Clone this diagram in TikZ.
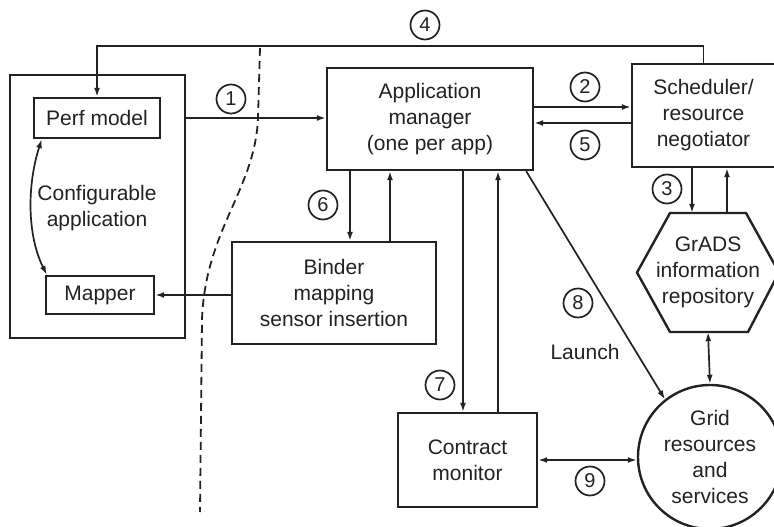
\documentclass[tikz,border=0pt]{standalone}
\usepackage{fontspec}
\setmainfont{Liberation Sans}
\usetikzlibrary{arrows.meta,calc}
\definecolor{ink}{HTML}{222222}
\begin{document}
\begin{tikzpicture}[x=1pt,y=-1pt,
  every node/.style={text=ink, font=\fontsize{21}{26}\selectfont, align=center, inner sep=0pt},
  box/.style={draw=ink, line width=2.4pt, rectangle},
  num/.style={draw=ink, circle, line width=1.7pt, minimum size=29pt, font=\fontsize{20}{20}\selectfont},
  conn/.style={draw=ink, line width=1.7pt},
  tip/.style={-{Latex[length=9,width=6]}},
  tips/.style={{Latex[length=9,width=6]}-{Latex[length=9,width=6]}}
]
\useasboundingbox (0,0) rectangle (774,527);
\fill[white] (0,0) rectangle (774,527);

% left side
\node[box, minimum width=175, minimum height=263] (app) at (97.5,206.5) {};
\node[box, minimum width=126, minimum height=40] (perf) at (97,118) {Perf model};
\node[box, minimum width=108, minimum height=38] (mapper) at (100,295) {Mapper};
\node (cfg) at (97,208) {Configurable\\application};

% centre
\node[box, minimum width=206, minimum height=102] (mgr) at (430,119) {Application\\manager\\(one per app)};
\node[box, minimum width=204, minimum height=102] (binder) at (334,293) {Binder\\mapping\\sensor insertion};
\node[box, minimum width=139, minimum height=94] (contract) at (467.5,460) {Contract\\monitor};

% right
\node[box, minimum width=143, minimum height=103] (sched) at (703.5,115.5) {Scheduler/\\resource\\negotiator};
\node[minimum width=142, minimum height=119] (hex) at (708,272.5) {GrADS\\information\\repository};
\draw[draw=ink, line width=2.4pt] (670,213) -- (746,213) -- (779,272.5) -- (748,332) -- (670,332) -- (637,272.5) -- cycle;
\node[draw=ink, circle, line width=2.4pt, minimum size=144] (grid) at (710,457) {Grid\\resources\\and\\services};

% dashed boundary
\draw[draw=ink, line width=1.8pt, dash pattern=on 8pt off 5pt]
  (260,48) -- (258,118) .. controls (255,190) and (205,230) .. (202,320) -- (200,512);

% connectors
\draw[conn, tip] (app.east |- perf) -- (mgr.west |- perf);
\draw[conn, tip] ([yshift=12]mgr.east) -- ([yshift=12]mgr.east -| sched.west);
\draw[conn, tip] ([yshift=-4]mgr.east -| sched.west) -- ([yshift=-4]mgr.east);
\draw[conn, tip] (sched.north) -- ++(0,-17) -| (perf.north);
\draw[conn, tip] ([xshift=-11.5]sched.south) -- ([xshift=-11.5]sched.south |- hex.north);
\draw[conn, tip] ([xshift=23.5]sched.south |- hex.north) -- ([xshift=23.5]sched.south);
\draw[conn, tip] ([xshift=-80]mgr.south) -- ([xshift=-80]mgr.south |- binder.north);
\draw[conn, tip] ([xshift=-40]mgr.south |- binder.north) -- ([xshift=-40]mgr.south);
\draw[conn, tip] (binder.west |- mapper) -- (mapper.east);
\draw[conn, tip] ([xshift=33]mgr.south) -- ([xshift=33]mgr.south |- contract.north);
\draw[conn, tip] ([xshift=68]mgr.south |- contract.north) -- ([xshift=68]mgr.south);
\draw[conn, tip] ([xshift=-8]mgr.south east) -- (grid.128);
\draw[conn, tips] (contract.east) -- (contract.east -| grid.west);
\draw[conn, tips] (hex.south) -- (grid.north);
\draw[conn, tips] ([xshift=9]perf.south west) .. controls (27,185) and (27,235) .. ([xshift=2]mapper.north west);

% numbered labels
\node[num] (n1) at (231,99) {1};
\node[num] (n2) at (585,87) {2};
\node[num] (n3) at (667,189) {3};
\node[num] (n4) at (425,25) {4};
\node[num] (n5) at (585,145) {5};
\node[num] (n6) at (323,205) {6};
\node[num] (n7) at (440,385) {7};
\node[num] (n8) at (578,303) {8};
\node[num] (n9) at (590,481) {9};
\node (launch) at (585,352) {Launch};
\end{tikzpicture}
\end{document}
